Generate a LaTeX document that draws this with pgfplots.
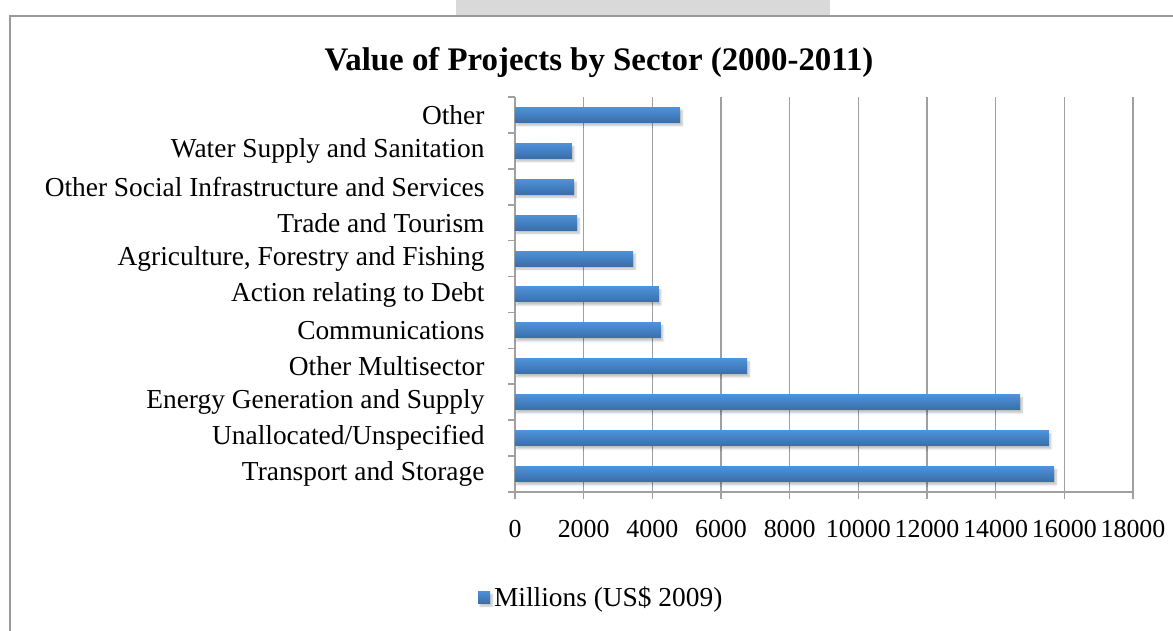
\documentclass[border=0pt]{standalone}
\usepackage{fontspec}
\setmainfont{Liberation Serif}
\usepackage{pgfplots}
\pgfplotsset{compat=1.18}
\usetikzlibrary{shadows.blur}
\definecolor{barTop}{HTML}{4C92DA}
\definecolor{barBot}{HTML}{3A6EA8}
\definecolor{gridGray}{HTML}{A0A0A0}
\newcommand{\lblfont}{\fontsize{27.5}{32}\selectfont}
\newcommand{\numfont}{\fontsize{26}{30}\selectfont}
\pgfplotsset{sectorbar/.style={xbar, bar width=15bp, bar shift=0pt, draw=none,
    top color=barTop, bottom color=barBot,
    blur shadow={shadow xshift=2bp, shadow yshift=-3bp, shadow opacity=25, shadow blur steps=6}}}
\begin{document}
\begin{tikzpicture}[x=1bp,y=1bp]
\useasboundingbox (-515,-139) rectangle (658,492);
\fill[gray!30] (-59,477) rectangle (315,492);
\draw[gray!80, line width=1.2bp] (-505,-200) -- (-505,476) -- (700,476);
\node[font=\fontsize{33}{40}\selectfont\bfseries] at (84,430) {Value of Projects by Sector (2000-2011)};
\begin{axis}[
    scale only axis,
    width=618bp, height=395bp,
    xmin=0, xmax=18000,
    ymin=-0.5, ymax=10.5,
    xtick={0,2000,...,18000},
    scaled x ticks=false,
    /pgf/number format/1000 sep={},
    /pgf/number format/assume math mode=true,
    ytick={0,...,10},
    yticklabels={Transport and Storage, Unallocated/Unspecified, Energy Generation and Supply, Other Multisector, Communications, Action relating to Debt, {Agriculture, Forestry and Fishing}, Trade and Tourism, Other Social Infrastructure and Services, Water Supply and Sanitation, Other},
    ytick style={draw=none},
    extra y ticks={-0.5,0.5,...,10.5},
    extra y tick labels={},
    extra y tick style={ytick style={draw=gridGray, line width=1.6bp}},
    tick align=outside,
    major tick length=7bp,
    xtick style={draw=gridGray, line width=1.6bp},
    xticklabel style={font=\numfont, yshift=-18bp},
    yticklabel style={font=\lblfont, xshift=-20bp},
    xmajorgrids,
    grid style={draw=gridGray, line width=1.6bp},
    axis x line*=bottom, axis y line*=left,
    axis line style={draw=gridGray, line width=1.6bp, -},
    legend style={draw=none, fill=none, font=\lblfont,
        at={(axis description cs:-0.06,-0.266)}, anchor=west,
        inner sep=0pt, /tikz/every odd column/.style={column sep=2bp}},
    legend image code/.code={\fill[top color=barTop, bottom color=barBot] (0bp,-6bp) rectangle (12bp,6bp);},
]
\addplot[sectorbar] coordinates {(15700,0)};
\addlegendentry{Millions (US\$ 2009)}
\addplot[sectorbar, forget plot] coordinates {(15550,1)};
\addplot[sectorbar, forget plot] coordinates {(14710,2)};
\addplot[sectorbar, forget plot] coordinates {(6760,3)};
\addplot[sectorbar, forget plot] coordinates {(4250,4)};
\addplot[sectorbar, forget plot] coordinates {(4190,5)};
\addplot[sectorbar, forget plot] coordinates {(3440,6)};
\addplot[sectorbar, forget plot] coordinates {(1810,7)};
\addplot[sectorbar, forget plot] coordinates {(1720,8)};
\addplot[sectorbar, forget plot] coordinates {(1660,9)};
\addplot[sectorbar, forget plot] coordinates {(4810,10)};
\end{axis}
\end{tikzpicture}
\end{document}
